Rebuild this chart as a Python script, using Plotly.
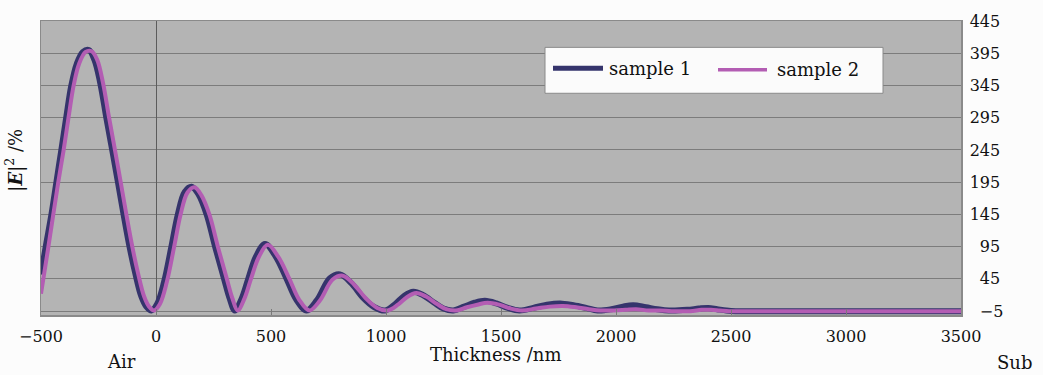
import plotly.graph_objects as go

# ---- data ----
thickness_s1 = [-500, -478, -455, -433, -412, -390, -368, -345, -318, -292,
                -268, -243, -216, -190, -165, -140, -114, -89, -64, -42,
                -20, 5, 35, 67, 95, 125, 155, 185, 220, 257,
                296, 320, 343, 372, 401, 435, 474, 520, 568, 610,
                655, 700, 756, 800, 850, 900, 950, 996, 1040, 1080,
                1119, 1160, 1210, 1250, 1293, 1340, 1385, 1430, 1480, 1530,
                1580, 1640, 1700, 1757, 1815, 1870, 1920, 1980, 2030, 2075,
                2130, 2180, 2230, 2310, 2360, 2401, 2440, 2480, 2520, 3000,
                3500]
e2_s1 = [52, 98, 144, 195, 244, 296, 345, 378, 397, 400,
         385, 350, 295, 244, 194, 143, 93, 52, 18, 2,
         -4, 6, 40, 95, 145, 180, 188, 176, 145, 95,
         45, 15, -4, 14, 45, 80, 99, 80, 45, 13,
         -4, 12, 46, 52, 38, 16, 1, -4, 6, 19,
         25, 20, 8, -1, -4, 2, 8, 11, 7, 0,
         -4, 0, 5, 7, 4, 0, -4, -2, 2, 4,
         1, -2, -4, -3, -1, 0, -2, -4, -5, -5,
         -5]

thickness_s2 = [-500, -470, -447, -425, -402, -380, -358, -335, -306, -280,
                -256, -231, -204, -178, -153, -128, -102, -77, -52, -30,
                -8, 17, 47, 79, 107, 137, 167, 197, 232, 269,
                308, 332, 355, 384, 413, 447, 486, 532, 580, 622,
                667, 712, 768, 812, 862, 912, 962, 1008, 1052, 1092,
                1131, 1172, 1222, 1262, 1305, 1352, 1397, 1442, 1492, 1542,
                1592, 1652, 1712, 1769, 1827, 1882, 1932, 1992, 2042, 2087,
                2142, 2192, 2242, 2322, 2372, 2413, 2452, 2492, 2532, 3000,
                3500]
e2_s2 = [22, 90, 144, 195, 244, 296, 345, 378, 397, 398,
         385, 350, 295, 244, 194, 143, 93, 52, 18, 2,
         -4, 6, 40, 95, 145, 179, 187, 175, 145, 95,
         45, 15, -4, 14, 45, 79, 98, 79, 45, 13,
         -4, 11, 44, 50, 36, 15, 0, -4, 5, 17,
         23, 18, 6, -2, -4, 1, 5, 8, 5, -1,
         -4, -1, 2, 3, 1, -2, -4, -4, -3, -2,
         -4, -4, -5, -5, -3, -3, -4, -5, -5, -5,
         -5]

series_names = ["sample 1", "sample 2"]
x_tick_vals = [-500, 0, 500, 1000, 1500, 2000, 2500, 3000, 3500]
y_tick_vals = [-5, 45, 95, 145, 195, 245, 295, 345, 395, 445]
y_tick_text = ["\u2007\u22125", "\u200745", "\u200795", "145", "195", "245",
               "295", "345", "395", "445"]

# ---- style ----
FONT = "DejaVu Serif"
C1 = "#35346c"
C2 = "#b35db3"

fig = go.Figure()
fig.add_trace(go.Scatter(x=thickness_s1, y=e2_s1, name=series_names[0], mode="lines",
                         line=dict(color=C1, width=6, shape="spline", smoothing=1.0)))
fig.add_trace(go.Scatter(x=thickness_s2, y=e2_s2, name=series_names[1], mode="lines",
                         line=dict(color=C2, width=4, shape="spline", smoothing=1.0)))

L, R, T, B = 41, 82, 14, 60
W, H = 1043, 375
pw, ph = W - L - R, H - T - B


def px(xp):
    return (xp - L) / pw


def py(yp):
    return (H - B - yp) / ph


shapes = [
    dict(type="rect", xref="paper", yref="paper", x0=px(545), x1=px(883), y0=py(88), y1=py(41),
         fillcolor="#fbfbfb", line=dict(color="#8a8a8a", width=1), layer="above"),
    dict(type="line", xref="paper", yref="paper", x0=px(553), x1=px(603), y0=py(62.5), y1=py(62.5),
         line=dict(color=C1, width=5), layer="above"),
    dict(type="line", xref="paper", yref="paper", x0=px(718), x1=px(767), y0=py(64), y1=py(64),
         line=dict(color=C2, width=3.5), layer="above"),
]

TF = dict(family=FONT, size=18, color="#111")
annotations = [
    dict(text=series_names[0], xref="paper", yref="paper", x=px(607), y=py(62.5),
         xanchor="left", yanchor="middle", showarrow=False, font=TF),
    dict(text=series_names[1], xref="paper", yref="paper", x=px(775), y=py(64),
         xanchor="left", yanchor="middle", showarrow=False, font=TF),
    dict(text="Thickness /nm", xref="paper", yref="paper", x=px(496), y=py(355),
         xanchor="center", yanchor="middle", showarrow=False, font=TF),
    dict(text="Air", xref="paper", yref="paper", x=px(121), y=py(363),
         xanchor="center", yanchor="middle", showarrow=False, font=TF),
    dict(text="Sub", xref="paper", yref="paper", x=px(1014), y=py(364),
         xanchor="center", yanchor="middle", showarrow=False, font=TF),
    dict(text="|<b><i>E</i></b>|<sup>2</sup> /%", xref="paper", yref="paper", x=px(15), y=py(157),
         xanchor="center", yanchor="middle", textangle=-90, showarrow=False, font=TF),
]

fig.update_layout(
    width=W, height=H,
    margin=dict(l=L, r=R, t=T, b=B),
    paper_bgcolor="#fcfcfc",
    plot_bgcolor="#b4b4b4",
    showlegend=False,
    hovermode=False,
    shapes=shapes,
    annotations=annotations,
    xaxis=dict(range=[-500, 3500], tickvals=x_tick_vals, showgrid=False,
               zeroline=True, zerolinecolor="#5c5c5c", zerolinewidth=1,
               showline=True, mirror=True, linecolor="#8a8a8a", linewidth=1.5,
               ticks="inside", ticklen=6, tickcolor="#7a7a7a",
               tickfont=dict(family=FONT, size=16, color="#111"), ticklabelstandoff=6),
    yaxis=dict(range=[-11, 445], side="right", tickvals=y_tick_vals, ticktext=y_tick_text,
               showgrid=True, gridcolor="#7c7c7c", gridwidth=1, zeroline=False,
               showline=True, mirror=True, linecolor="#8a8a8a", linewidth=1.5,
               ticks="", tickfont=dict(family=FONT, size=16, color="#111"), ticklabelstandoff=4),
)

fig.write_html("out.html", config={"displayModeBar": False, "staticPlot": True},
               post_script="document.body.style.margin='0';document.body.style.overflow='hidden';")
